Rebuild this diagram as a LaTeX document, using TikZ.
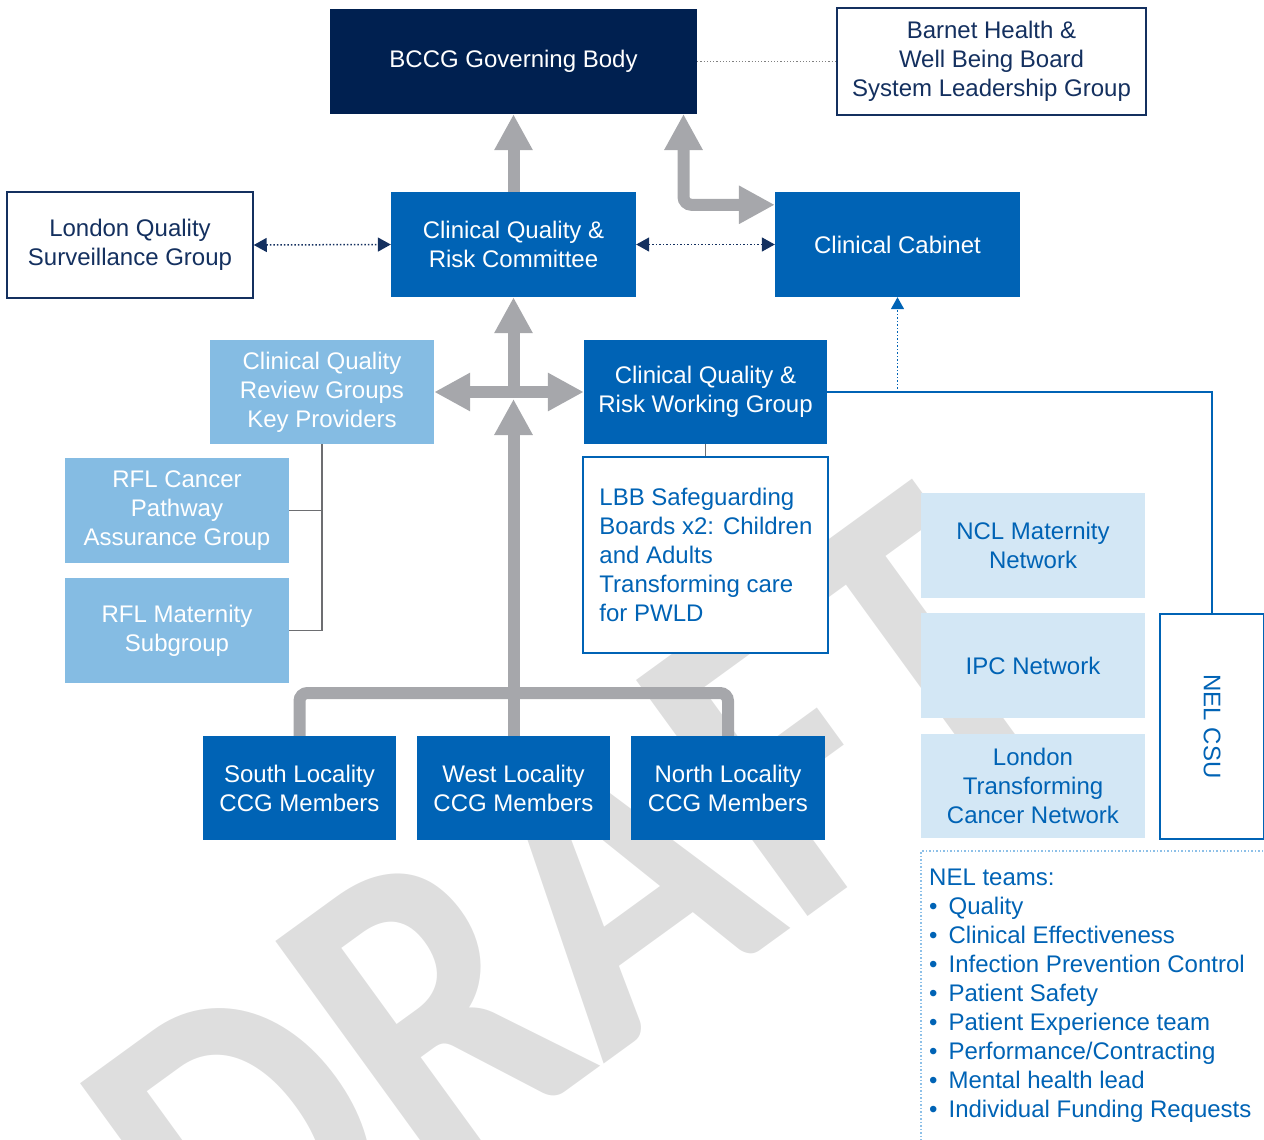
\documentclass[tikz,border=0pt]{standalone}
\usepackage{fontspec}
\setmainfont{Liberation Sans}
\newfontfamily\wmfont{Carlito}
\usetikzlibrary{arrows.meta,calc}

\definecolor{navy}{HTML}{002050}
\definecolor{outlinenavy}{HTML}{14305F}
\definecolor{midblue}{HTML}{0063B5}
\definecolor{paleblue}{HTML}{85BCE3}
\definecolor{iceblue}{HTML}{D3E7F5}
\definecolor{dotblue}{HTML}{8DC0E8}
\definecolor{arrowgrey}{HTML}{A6A7AB}
\definecolor{linkgrey}{HTML}{6D6E71}
\definecolor{wmgrey}{HTML}{DEDEDE}

\begin{document}
\begin{tikzpicture}[x=1pt, y=-1pt,
  every node/.style={font=\fontsize{24}{29}\selectfont, align=center, inner sep=0pt},
  dark/.style={fill=navy, text=white},
  solid/.style={fill=midblue, text=white},
  pale/.style={fill=paleblue, text=white},
  ice/.style={fill=iceblue, text=midblue},
  outline/.style={draw=outlinenavy, line width=1.5pt, fill=white, text=outlinenavy},
  blueframe/.style={draw=midblue, line width=1.5pt, fill=white, text=midblue},
  fat/.style={draw=arrowgrey, line width=12pt},
  fatarrow/.style={fat, -{Triangle[width=36pt,length=36pt]}},
  fatboth/.style={fat, {Triangle[width=36pt,length=36pt]}-{Triangle[width=36pt,length=36pt]}},
  link/.style={draw=linkgrey, line width=1.5pt},
  dotlink/.style={draw=outlinenavy, line width=1.5pt, dotted,
    {Triangle[width=14pt,length=13pt]}-{Triangle[width=14pt,length=13pt]}},
  greydot/.style={draw=gray, line width=1.2pt, dotted},
  bluedot/.style={draw=midblue, line width=1.5pt, dotted, -{Triangle[width=13pt,length=12pt]}},
  csulink/.style={draw=midblue, line width=1.5pt}]

\useasboundingbox (0,0) rectangle (1264,1140);
\clip (0,0) rectangle (1264,1140);

% watermark
\node[name=wm, text=wmgrey, rotate=36, xscale=0.85, transform shape, font=\wmfont\bfseries\fontsize{450}{450}\selectfont] at (575,905) {DRAFT};

% top row
\node[name=gov, dark, minimum width=367pt, minimum height=105pt] at (513.5,61.5) {BCCG Governing Body};
\node[name=barnet, outline, minimum width=309pt, minimum height=107pt] at (991.5,61.5) {Barnet Health \&\\Well Being Board\\System Leadership Group};

\node[name=lqsg, outline, minimum width=246pt, minimum height=106pt] at (130,245) {London Quality\\Surveillance Group};
\node[name=cqrc, solid, minimum width=245pt, minimum height=105pt] at (513.5,244.5) {Clinical Quality \&\\Risk Committee};
\node[name=cabinet, solid, minimum width=245pt, minimum height=105pt] at (897.5,244.5) {Clinical Cabinet};

% middle
\node[name=review, pale, minimum width=224pt, minimum height=104pt] at (322,392) {Clinical Quality\\Review Groups\\Key Providers};
\node[name=cqrwg, solid, minimum width=243pt, minimum height=104pt] at (705.5,392) {Clinical Quality \&\\Risk Working Group};
\node[name=rflc, pale, minimum width=224pt, minimum height=105pt] at (177,510.5) {RFL Cancer\\Pathway\\Assurance Group};
\node[name=rflm, pale, minimum width=224pt, minimum height=105pt] at (177,630.5) {RFL Maternity\\Subgroup};
\node[name=lbb, blueframe, minimum width=245pt, minimum height=196pt] at (705.5,555) {};
\node[name=lbbtext, text=midblue, align=left, anchor=west] at ($(lbb.west)+(17,0)$) {LBB Safeguarding\\Boards x2: Children\\and Adults\\Transforming care\\for PWLD};

% right column
\node[name=ncl, ice, minimum width=224pt, minimum height=105pt] at (1033,545.5) {NCL Maternity\\Network};
\node[name=ipc, ice, minimum width=224pt, minimum height=105pt] at (1033,665.5) {IPC Network};
\node[name=ltcn, ice, minimum width=224pt, minimum height=104pt] at (1033,786) {London\\Transforming\\Cancer Network};
\node[name=csu, blueframe, minimum width=104pt, minimum height=225pt] at (1212,726.5) {};
\node[name=csutext, text=midblue, rotate=-90] at (csu.center) {NEL CSU};

% localities
\node[name=south, solid, minimum width=193pt, minimum height=104pt] at (299.5,788) {South Locality\\CCG Members};
\node[name=west, solid, minimum width=193pt, minimum height=104pt] at (513.5,788) {West Locality\\CCG Members};
\node[name=north, solid, minimum width=194pt, minimum height=104pt] at (728,788) {North Locality\\CCG Members};

% NEL teams
\draw[dotblue, line width=1.5pt, dotted] (1270,851) -- (921,851) -- (921,1150);
\node[name=teams, text=midblue, align=left, anchor=north west] at (929,869) {NEL teams:\\
\textbullet\hspace{11pt}Quality\\
\textbullet\hspace{11pt}Clinical Effectiveness\\
\textbullet\hspace{11pt}Infection Prevention Control\\
\textbullet\hspace{11pt}Patient Safety\\
\textbullet\hspace{11pt}Patient Experience team\\
\textbullet\hspace{11pt}Performance/Contracting\\
\textbullet\hspace{11pt}Mental health lead\\
\textbullet\hspace{11pt}Individual Funding Requests};

\coordinate (hub) at (513.5,392);
\coordinate (hubfoot) at (513.5,399);
\coordinate (bar) at (513.5,693);
\coordinate (govfoot) at (683.5,114);
\coordinate (cabin) at ($(cabinet.north west)+(0,13)$);
\coordinate (cabfoot) at (cqrwg.east -| cabinet.south);

\draw[greydot] (gov.east) -- (barnet.west);
\draw[fatarrow] (cqrc.north) -- (gov.south);
\draw[fatboth, rounded corners=8pt] (govfoot) |- (cabin);
\draw[dotlink] (lqsg.east) -- (cqrc.west);
\draw[dotlink] (cqrc.east) -- (cabinet.west);

\draw[fatarrow] (hub) -- (cqrc.south);
\draw[fatarrow] (hub) -- (review.east);
\draw[fatarrow] (hub) -- (cqrwg.west);
\draw[fat, rounded corners=8pt] (south.north) |- (bar) -| (north.north);
\draw[fat] (west.north) -- (bar);
\draw[fatarrow] (bar) -- (hubfoot);

\draw[link] (review.south) |- (rflm.east);
\draw[link] (rflc.east) -- (rflc.east -| review.south);
\draw[link] (cqrwg.south) -- (lbb.north);

\draw[csulink] (cqrwg.east) -| (csu.north);
\draw[bluedot] (cabfoot) -- (cabinet.south);

\end{tikzpicture}
\end{document}
